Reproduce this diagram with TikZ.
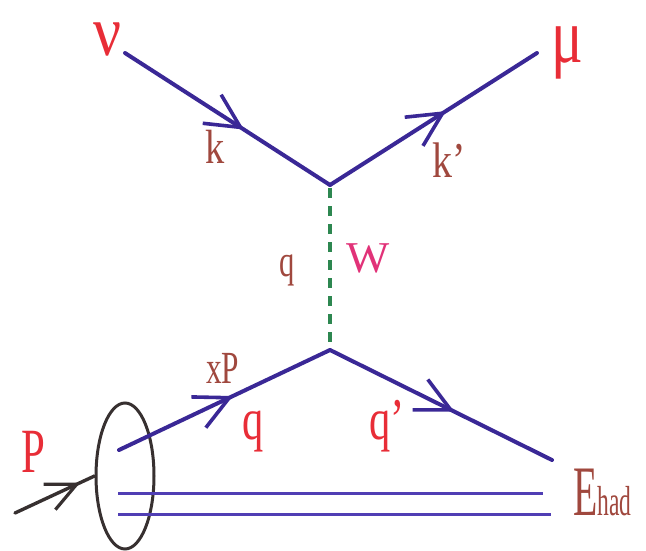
\documentclass[tikz,border=0pt]{standalone}
\usepackage{fontspec}
\setmainfont{Liberation Serif}
\usetikzlibrary{arrows.meta,decorations.markings,shapes.geometric}
\definecolor{linecol}{RGB}{58,40,150}
\definecolor{hadcol}{RGB}{80,62,180}
\definecolor{redlab}{RGB}{232,45,55}
\definecolor{brownlab}{RGB}{160,72,62}
\definecolor{wcol}{RGB}{225,50,120}
\definecolor{greencol}{RGB}{45,135,80}
\definecolor{darkcol}{RGB}{55,48,48}
\tikzset{
  fermion/.style={draw=linecol, line width=4pt, line cap=round},
  midarrow/.style={postaction={decorate, decoration={markings,
      mark=at position #1 with {\arrow{Straight Barb[length=34pt,width=34pt,line width=3.6pt]}}}}},
  lbl/.style={inner sep=0pt, anchor=base west, xscale=0.8},
}
\begin{document}
\begin{tikzpicture}[x=1pt,y=-1pt]
\useasboundingbox (0,0) rectangle (646,551);
% coordinates
\coordinate (nuend) at (125,53);
\coordinate (muend) at (537,53);
\coordinate (vtop) at (330,185);
\coordinate (vbot) at (330,350);
\coordinate (qin) at (119,450);
\coordinate (qout) at (552,460);
\coordinate (h1a) at (118,493);
\coordinate (h1b) at (543,493);
\coordinate (h2a) at (118,514);
\coordinate (h2b) at (551,514);
\coordinate (pstart) at (15,513);
\node[draw=darkcol, line width=3pt, ellipse, minimum width=58pt, minimum height=146pt, inner sep=0pt] (blob) at (125,476) {};
% fermion lines
\draw[fermion, midarrow=0.58] (nuend) -- (vtop);
\draw[fermion, midarrow=0.56] (vtop) -- (muend);
\draw[fermion, midarrow=0.54] (qin) -- (vbot);
\draw[fermion, midarrow=0.56] (vbot) -- (qout);
\draw[draw=hadcol, line width=3pt] (h1a) -- (h1b);
\draw[draw=hadcol, line width=3pt] (h2a) -- (h2b);
% W boson
\draw[draw=greencol, line width=3.6pt, dash pattern=on 10pt off 8pt] ([yshift=-3pt]vtop) -- ([yshift=5pt]vbot);
% incoming proton
\draw[draw=darkcol, line width=3.4pt, line cap=round,
  postaction={decorate, decoration={markings, mark=at position 0.82 with {\arrow[darkcol]{Straight Barb[length=30pt,width=28pt,line width=3.2pt]}}}}]
  (pstart) -- (blob.west);
% labels
\node[lbl, text=redlab, font=\fontsize{62}{62}\selectfont, xscale=1.25, yscale=1.15] (nu) at (93,56) {ν};
\node[lbl, text=redlab, font=\fontsize{78}{78}\selectfont, xscale=0.95] (mu) at (551,63) {μ};
\node[lbl, text=brownlab, font=\fontsize{48}{48}\selectfont] (k) at (205,163) {k};
\node[lbl, text=brownlab, font=\fontsize{50}{50}\selectfont] (kp) at (432,177) {k’};
\node[lbl, text=brownlab, font=\fontsize{45}{45}\selectfont, xscale=0.85] (qw) at (279,276) {q};
\node[lbl, text=wcol, font=\fontsize{44}{44}\selectfont, xscale=1.3] (W) at (346,272) {W};
\node[lbl, text=brownlab, font=\fontsize{46}{46}\selectfont, xscale=0.85] (xP) at (206,383) {xP};
\node[lbl, text=redlab, font=\fontsize{59}{59}\selectfont, xscale=0.9] (q) at (242,439) {q};
\node[lbl, text=redlab, font=\fontsize{59}{59}\selectfont, xscale=0.9] (qp) at (369,439) {q’};
\node[lbl, text=redlab, font=\fontsize{63}{63}\selectfont, xscale=0.85] (P) at (21,472) {P};
\node[lbl, text=brownlab, font=\fontsize{71}{71}\selectfont, xscale=0.7] (E) at (573,515) {E\fontsize{42}{42}\selectfont had};
\end{tikzpicture}
\end{document}
